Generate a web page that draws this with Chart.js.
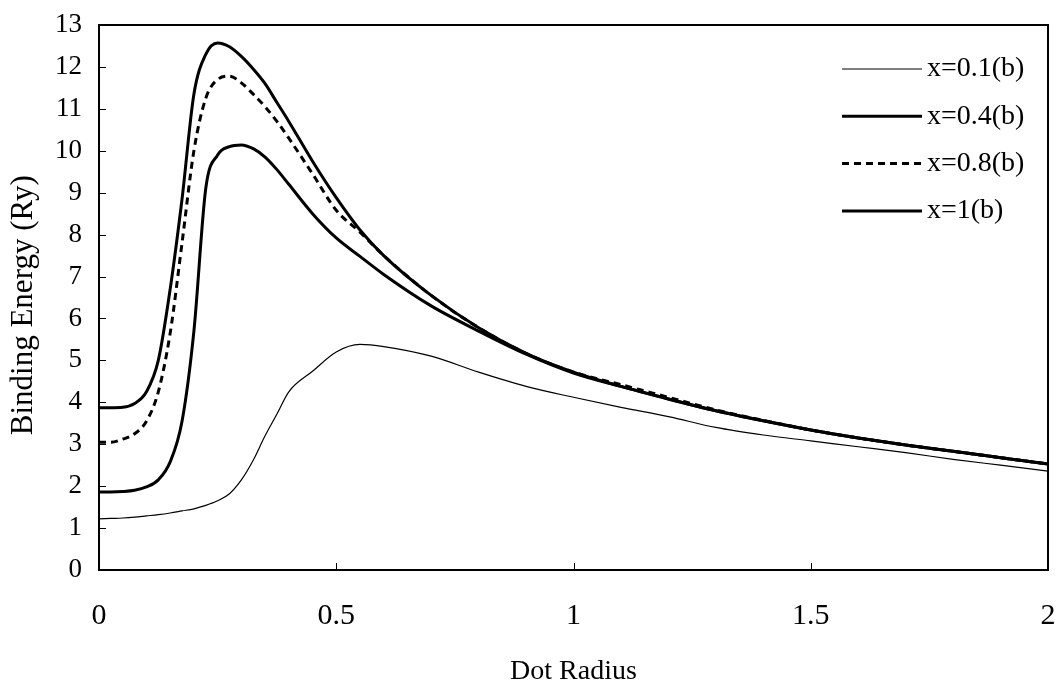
<!DOCTYPE html>
<html lang="en">

<head>
    <meta charset="UTF-8">
    <title>Binding Energy vs Dot Radius</title>
    <script src="https://cdn.jsdelivr.net/npm/chart.js"></script>
    <style>
        body {
            margin: 0;
            background: #ffffff;
        }
    </style>
</head>

<body>
    <canvas id="energyChart" width="1060" height="687"></canvas>

    <script>
        // dot radius values (shared by all four curves)
        const radius = [0, 0.025, 0.05, 0.075, 0.1, 0.125, 0.15, 0.175, 0.2, 0.225, 0.25, 0.275, 0.3, 0.325, 0.35, 0.375, 0.4, 0.45, 0.5, 0.55, 0.6, 0.7, 0.8, 0.9, 1.0, 1.1, 1.2, 1.3, 1.4, 1.5, 1.6, 1.7, 1.8, 1.9, 2.0];

        // binding energy (Ry)
        const energyX01 = [1.22, 1.23, 1.24, 1.26, 1.29, 1.32, 1.36, 1.41, 1.46, 1.54, 1.65, 1.82, 2.15, 2.62, 3.2, 3.72, 4.25, 4.74, 5.2, 5.38, 5.33, 5.1, 4.72, 4.38, 4.12, 3.88, 3.66, 3.4, 3.22, 3.08, 2.94, 2.8, 2.64, 2.5, 2.36];
        const energyX04 = [1.86, 1.86, 1.87, 1.9, 1.98, 2.15, 2.58, 3.55, 5.7, 9.1, 9.9, 10.1, 10.14, 10.05, 9.85, 9.55, 9.2, 8.5, 7.92, 7.48, 7.05, 6.3, 5.7, 5.15, 4.7, 4.38, 4.08, 3.8, 3.56, 3.34, 3.15, 2.98, 2.83, 2.68, 2.53];
        const energyX08 = [3.05, 3.05, 3.12, 3.25, 3.55, 4.25, 5.65, 7.8, 10.0, 11.25, 11.7, 11.78, 11.62, 11.35, 11.05, 10.7, 10.3, 9.45, 8.58, 8.06, 7.5, 6.55, 5.78, 5.17, 4.72, 4.42, 4.12, 3.82, 3.57, 3.34, 3.15, 2.98, 2.83, 2.68, 2.53];
        const energyX1 = [3.87, 3.87, 3.88, 3.97, 4.25, 5.0, 6.7, 8.85, 11.35, 12.3, 12.57, 12.48, 12.25, 11.95, 11.6, 11.15, 10.7, 9.75, 8.88, 8.11, 7.5, 6.55, 5.78, 5.17, 4.72, 4.38, 4.08, 3.8, 3.56, 3.34, 3.15, 2.98, 2.83, 2.68, 2.53];

        const seriesLabels = ['x=0.1(b)', 'x=0.4(b)', 'x=0.8(b)', 'x=1(b)'];
        const seriesValues = [energyX01, energyX04, energyX08, energyX1];

        // axis ticks
        const yMin = 0, yMax = 13, yStep = 1;
        const xMin = 0, xMax = 2, xStep = 0.5;

        const serif = "'Liberation Serif', 'Times New Roman', serif";
        const lineWidths = [1.2, 3, 3, 3];
        const lineDashes = [[], [], [7, 5], []];

        const datasets = seriesValues.map((vals, i) => ({
            label: seriesLabels[i],
            data: vals.map((v, j) => ({ x: radius[j], y: v })),
            borderColor: '#000000',
            borderWidth: lineWidths[i],
            borderDash: lineDashes[i],
            pointRadius: 0,
            fill: false,
            cubicInterpolationMode: 'monotone'
        }));

        // keep the plot box where the figure has it
        function noScalePadding(scale) {
            scale.paddingLeft = 0;
            scale.paddingRight = 0;
            scale.paddingTop = 0;
            scale.paddingBottom = 0;
        }

        // box around the plot, small inward ticks, legend inside the plot area
        const frameAndLegend = {
            id: 'frameAndLegend',
            afterDraw(chart) {
                const ctx = chart.ctx;
                const area = chart.chartArea;
                const xs = chart.scales.x;
                const ys = chart.scales.y;
                ctx.save();
                ctx.strokeStyle = '#000000';
                ctx.lineWidth = 2;
                ctx.strokeRect(area.left, area.top, area.right - area.left, area.bottom - area.top);

                // inward tick marks
                ctx.lineWidth = 1;
                ctx.beginPath();
                xs.ticks.forEach(t => {
                    const px = Math.round(xs.getPixelForValue(t.value)) + 0.5;
                    ctx.moveTo(px, area.bottom);
                    ctx.lineTo(px, area.bottom - 7);
                });
                ys.ticks.forEach(t => {
                    const py = Math.round(ys.getPixelForValue(t.value)) + 0.5;
                    ctx.moveTo(area.left, py);
                    ctx.lineTo(area.left + 7, py);
                });
                ctx.stroke();

                const lineStart = area.right - 206;
                const lineEnd = area.right - 126;
                chart.data.datasets.forEach((ds, i) => {
                    const y = area.top + 44 + i * 47.3;
                    ctx.beginPath();
                    ctx.lineWidth = ds.borderWidth;
                    ctx.setLineDash(ds.borderDash);
                    ctx.moveTo(lineStart, y);
                    ctx.lineTo(lineEnd, y);
                    ctx.stroke();
                    ctx.setLineDash([]);
                    ctx.fillStyle = '#000000';
                    ctx.font = '28px ' + serif;
                    ctx.textAlign = 'left';
                    ctx.textBaseline = 'middle';
                    ctx.fillText(ds.label, lineEnd + 5, y);
                });
                ctx.restore();
            }
        };

        const ctx = document.getElementById('energyChart').getContext('2d');
        const energyChart = new Chart(ctx, {
            type: 'line',
            data: { datasets: datasets },
            options: {
                responsive: false,
                animation: false,
                layout: {
                    padding: { left: 0, top: 25, right: 12, bottom: 0 }
                },
                plugins: {
                    legend: { display: false },
                    tooltip: { enabled: false }
                },
                scales: {
                    x: {
                        type: 'linear',
                        min: xMin,
                        max: xMax,
                        border: { display: false },
                        grid: { display: false, drawTicks: false },
                        ticks: {
                            stepSize: xStep,
                            padding: 28,
                            color: '#000000',
                            maxRotation: 0,
                            font: { family: serif, size: 30 },
                            callback: (v) => String(v)
                        },
                        title: {
                            display: true,
                            text: 'Dot Radius',
                            color: '#000000',
                            font: { family: serif, size: 28, lineHeight: 1 },
                            padding: { top: 0, bottom: 1 }
                        },
                        afterFit: (scale) => {
                            scale.height = 117;
                            noScalePadding(scale);
                        }
                    },
                    y: {
                        type: 'linear',
                        min: yMin,
                        max: yMax,
                        border: { display: false },
                        grid: { display: false, drawTicks: false },
                        ticks: {
                            stepSize: yStep,
                            padding: 17,
                            color: '#000000',
                            font: { family: serif, size: 27 }
                        },
                        title: {
                            display: true,
                            text: 'Binding Energy (Ry)  ',
                            color: '#000000',
                            font: { family: serif, size: 31, lineHeight: 1 },
                            padding: { top: 8, bottom: 0 }
                        },
                        afterFit: (scale) => {
                            scale.width = 99;
                            noScalePadding(scale);
                        }
                    }
                }
            },
            plugins: [frameAndLegend]
        });
    </script>
</body>

</html>
